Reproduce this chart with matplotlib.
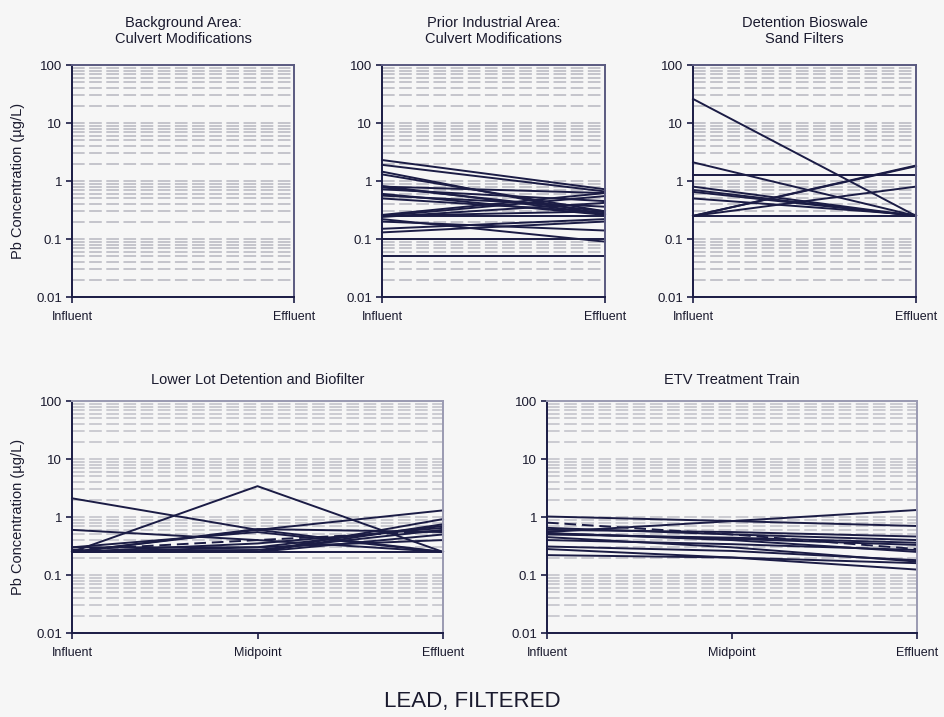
import matplotlib
matplotlib.use("Agg")
import matplotlib.pyplot as plt
from matplotlib.ticker import FixedLocator, LogLocator, NullFormatter

plt.rcParams["font.family"] = ["Liberation Sans", "DejaVu Sans"]

# --- data (µg/L) ---
stages_2 = ["Influent", "Effluent"]
stages_3 = ["Influent", "Midpoint", "Effluent"]

background_area = []  # no samples plotted

prior_industrial = [
    [2.3, 0.72], [1.9, 0.66], [1.45, 0.26], [1.3, 0.3], [0.82, 0.27],
    [0.78, 0.3], [0.72, 0.45], [0.6, 0.26], [0.56, 0.36], [0.5, 0.29],
    [0.8, 0.62], [0.26, 0.62], [0.25, 0.55], [0.25, 0.25], [0.24, 0.42],
    [0.22, 0.09], [0.2, 0.14], [0.15, 0.22], [0.13, 0.2], [0.1, 0.1],
    [0.05, 0.05], [0.25, 0.3],
]

detention_bioswale = [
    [26.0, 0.25], [2.1, 0.25], [1.25, 1.25], [0.8, 0.25], [0.7, 0.25],
    [0.5, 0.26], [0.65, 0.25], [0.25, 1.8], [0.25, 1.85], [0.25, 0.8],
    [0.25, 0.25],
]

lower_lot = [
    [2.1, 0.6, 0.25], [0.25, 3.4, 0.25], [0.6, 0.4, 0.25],
    [0.25, 0.6, 1.3], [0.25, 0.25, 0.92], [0.25, 0.25, 0.75],
    [0.3, 0.3, 0.4], [0.25, 0.62, 0.55], [0.25, 0.25, 0.5],
    [0.3, 0.55, 0.25], [0.25, 0.35, 0.65], [0.25, 0.25, 0.25],
    [0.26, 0.27, 0.6], [0.25, 0.3, 0.7],
]
lower_lot_dashed = [[0.27, 0.4, 0.58]]

etv_train = [
    [1.02, 0.85, 0.7], [0.55, 0.85, 1.32], [0.6, 0.55, 0.46],
    [0.5, 0.44, 0.36], [0.53, 0.4, 0.25], [0.45, 0.3, 0.17],
    [0.4, 0.34, 0.27], [0.31, 0.26, 0.18], [0.28, 0.2, 0.124],
    [0.22, 0.2, 0.16], [0.65, 0.5, 0.4], [0.52, 0.42, 0.33],
]
etv_dashed = [[0.8, 0.5, 0.28]]

panel_titles = [
    "Background Area:\nCulvert Modifications",
    "Prior Industrial Area:\nCulvert Modifications",
    "Detention Bioswale\nSand Filters",
    "Lower Lot Detention and Biofilter",
    "ETV Treatment Train",
]

BG = "#f6f6f6"
LINE = "#1b1c45"
TEXT = "#1a1a2e"

fig = plt.figure(figsize=(9.44, 7.17), dpi=100, facecolor=BG)
W, H = 944.0, 717.0


def make_ax(x0, x1, ytop, ybot):
    return fig.add_axes([x0 / W, 1 - ybot / H, (x1 - x0) / W, (ybot - ytop) / H])


def style(ax, labels, title, ylabel, border, grid_color, title_pad):
    ax.set_facecolor(BG)
    ax.set_yscale("log")
    ax.set_ylim(0.01, 100)
    ax.set_xlim(0, len(labels) - 1)
    ax.set_xticks(range(len(labels)))
    ax.set_xticklabels(labels, fontsize=9, color=TEXT)
    ax.yaxis.set_major_locator(FixedLocator([0.01, 0.1, 1, 10, 100]))
    ax.set_yticklabels(["0.01", "0.1", "1", "10", "100"], fontsize=9.5, color=TEXT)
    ax.yaxis.set_minor_locator(LogLocator(base=10, subs=range(2, 10)))
    ax.yaxis.set_minor_formatter(NullFormatter())
    ax.tick_params(axis="y", which="minor", length=0)
    ax.tick_params(axis="both", which="major", length=4, width=1.2,
                   color=LINE, direction="out")
    ax.tick_params(axis="x", pad=6)
    ax.tick_params(axis="y", pad=3)
    ax.grid(True, axis="y", which="both", color=grid_color, linestyle=(0, (7, 2.5)),
            linewidth=1.3)
    ax.set_axisbelow(True)
    ax.spines["left"].set_color(LINE)
    ax.spines["bottom"].set_color(LINE)
    ax.spines["left"].set_linewidth(1.4)
    ax.spines["bottom"].set_linewidth(1.4)
    for side in ("top", "right"):
        ax.spines[side].set_color(border)
        ax.spines[side].set_linewidth(1.4)
    ax.set_title(title, fontsize=10.5, color=TEXT, pad=title_pad)
    if ylabel:
        ax.set_ylabel("Pb Concentration (µg/L)", fontsize=10.5, color=TEXT, labelpad=8)


def draw(ax, series, ls="-"):
    for s in series:
        ax.plot(range(len(s)), s, color=LINE, linewidth=1.4, linestyle=ls,
                clip_on=False)


top_border, top_grid = "#5a5a80", "#c0c0c8"
bot_border, bot_grid = "#9a9ab2", "#c8c8cf"

ax1 = make_ax(72, 294, 65, 297)
style(ax1, stages_2, panel_titles[0], True, top_border, top_grid, 16)
draw(ax1, background_area)

ax2 = make_ax(382, 605, 65, 297)
style(ax2, stages_2, panel_titles[1], False, top_border, top_grid, 16)
draw(ax2, prior_industrial)

ax3 = make_ax(693, 916, 65, 297)
style(ax3, stages_2, panel_titles[2], False, top_border, top_grid, 16)
draw(ax3, detention_bioswale)

ax4 = make_ax(72, 443, 401, 633)
style(ax4, stages_3, panel_titles[3], True, bot_border, bot_grid, 12)
draw(ax4, lower_lot)
draw(ax4, lower_lot_dashed, ls=(0, (6, 3)))

ax5 = make_ax(547, 917, 401, 633)
style(ax5, stages_3, panel_titles[4], False, bot_border, bot_grid, 12)
draw(ax5, etv_train)
draw(ax5, etv_dashed, ls=(0, (6, 3)))

fig.text(0.5, 1 - 701 / H, "LEAD, FILTERED", ha="center", va="center",
         fontsize=16, color=TEXT)

fig.savefig("out.png", dpi=100, facecolor=BG)
